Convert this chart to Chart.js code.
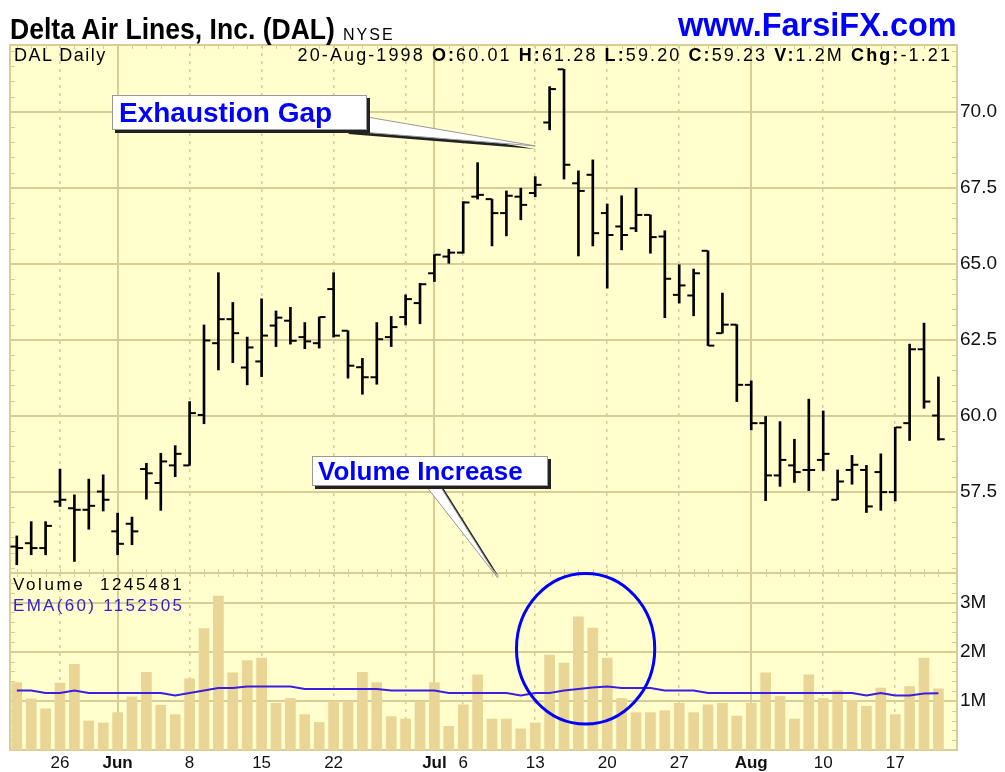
<!DOCTYPE html>
<html>
<head>
<meta charset="utf-8">
<title>DAL Daily</title>
<script src="https://cdn.jsdelivr.net/npm/chart.js@4.4.1/dist/chart.umd.min.js"></script>
<style>
  html, body { margin: 0; padding: 0; background: #fff; }
  #wrap { position: relative; width: 1005px; height: 772px; overflow: hidden; font-family: "Liberation Sans", Arial, sans-serif; }
  #wrap canvas { position: absolute; left: 0; top: 0; width: 1005px; height: 772px; }
  .txt { position: absolute; white-space: nowrap; line-height: 1; color: #000; }
  #title { left: 10px; top: 15px; font-weight: bold; font-size: 29px; transform: scaleX(0.915); transform-origin: 0 0; }
  #exch { left: 343px; top: 27px; font-size: 16px; letter-spacing: 2px; }
  #site { left: 678px; top: 9px; font-weight: bold; font-size: 32.5px; color: #0000ff; }
  #sym { left: 14px; top: 46px; font-size: 18px; letter-spacing: 1.5px; }
  #quote { right: 53px; top: 46px; font-size: 18px; letter-spacing: 2.1px; }
  #vol { left: 13px; top: 576px; font-size: 17px; letter-spacing: 2.6px; }
  #ema { left: 13px; top: 597px; font-size: 17px; letter-spacing: 2.3px; color: #3322cc; }
  .callout { position: absolute; background: #fff; border: 1px solid #999; box-shadow: 3px 3px 0 #222;
             color: #0000ff; font-weight: bold; white-space: nowrap; box-sizing: border-box; }
  #cb1 { left: 112px; top: 95px; width: 255px; height: 35px; font-size: 28px; line-height: 33px; padding-left: 6px; }
  #cb2 { left: 312px; top: 456px; width: 236px; height: 30px; font-size: 26px; line-height: 28px; padding-left: 5px; }
</style>
</head>
<body>
<div id="wrap">
  <canvas id="chart" width="1005" height="772"></canvas>
  <div class="txt" id="title">Delta Air Lines, Inc. (DAL)</div>
  <div class="txt" id="exch">NYSE</div>
  <div class="txt" id="site">www.FarsiFX.com</div>
  <div class="txt" id="sym">DAL Daily</div>
  <div class="txt" id="quote">20-Aug-1998 <b>O:</b>60.01 <b>H:</b>61.28 <b>L:</b>59.20 <b>C:</b>59.23 <b>V:</b>1.2M <b>Chg:</b>-1.21</div>
  <div class="txt" id="vol">Volume&nbsp;&nbsp;1245481</div>
  <div class="txt" id="ema">EMA(60) 1152505</div>
  <div class="callout" id="cb1">Exhaustion Gap</div>
  <div class="callout" id="cb2">Volume Increase</div>
</div>
<script>
// trading days shown, 20-May-1998 .. 20-Aug-1998
const dates = [
    '1998-05-20', '1998-05-21', '1998-05-22', '1998-05-26', '1998-05-27', '1998-05-28', '1998-05-29',
    '1998-06-01', '1998-06-02', '1998-06-03', '1998-06-04', '1998-06-05', '1998-06-08', '1998-06-09',
    '1998-06-10', '1998-06-11', '1998-06-12', '1998-06-15', '1998-06-16', '1998-06-17', '1998-06-18',
    '1998-06-19', '1998-06-22', '1998-06-23', '1998-06-24', '1998-06-25', '1998-06-26', '1998-06-29',
    '1998-06-30', '1998-07-01', '1998-07-02', '1998-07-06', '1998-07-07', '1998-07-08', '1998-07-09',
    '1998-07-10', '1998-07-13', '1998-07-14', '1998-07-15', '1998-07-16', '1998-07-17', '1998-07-20',
    '1998-07-21', '1998-07-22', '1998-07-23', '1998-07-24', '1998-07-27', '1998-07-28', '1998-07-29',
    '1998-07-30', '1998-07-31', '1998-08-03', '1998-08-04', '1998-08-05', '1998-08-06', '1998-08-07',
    '1998-08-10', '1998-08-11', '1998-08-12', '1998-08-13', '1998-08-14', '1998-08-17', '1998-08-18',
    '1998-08-19', '1998-08-20'
];

const openP = [
    55.70, 55.81, 55.65, 57.18, 56.96, 56.91, 57.51, 56.20, 56.45, 58.25, 57.79, 58.37, 58.37, 60.03,
    62.39, 63.18, 61.59, 61.79, 62.97, 63.13, 62.59, 62.39, 64.17, 62.80, 61.60, 61.27, 62.59, 63.25,
    63.71, 64.69, 65.24, 65.37, 67.21, 67.13, 66.67, 67.21, 67.33, 69.65, 71.40, 67.65, 67.93, 66.67,
    66.23, 66.17, 66.61, 65.90, 63.98, 63.96, 65.43, 62.72, 63.00, 61.02, 59.76, 58.04, 58.37, 58.22,
    58.55, 57.24, 58.22, 58.22, 58.15, 57.49, 59.76, 62.19, 60.01
];
const highP = [
    56.05, 56.52, 56.52, 58.25, 57.40, 57.92, 58.06, 56.80, 56.67, 58.44, 58.77, 59.02, 60.47, 62.99,
    64.71, 63.73, 62.59, 63.85, 63.45, 63.57, 63.07, 63.25, 64.71, 62.80, 61.89, 63.07, 63.27, 63.98,
    64.36, 65.30, 65.48, 67.05, 68.33, 67.13, 67.40, 67.49, 67.87, 70.83, 71.40, 68.06, 68.42, 66.97,
    67.24, 67.49, 66.61, 66.09, 64.97, 64.83, 65.43, 64.04, 63.00, 61.15, 59.98, 59.81, 59.23, 60.55,
    60.16, 58.22, 58.70, 58.37, 58.75, 59.62, 62.36, 63.05, 61.28
];
const lowP = [
    55.10, 55.43, 55.43, 57.02, 55.21, 56.27, 56.87, 55.43, 55.76, 57.26, 56.89, 58.00, 58.37, 59.74,
    61.51, 61.75, 61.02, 61.29, 62.28, 62.36, 62.21, 62.23, 62.59, 61.24, 60.71, 61.04, 62.28, 62.99,
    63.03, 64.42, 65.02, 65.35, 67.13, 65.59, 65.92, 66.45, 67.21, 69.41, 67.79, 65.26, 65.59, 64.20,
    65.46, 66.06, 65.35, 63.23, 63.71, 63.29, 62.31, 62.72, 60.47, 59.54, 57.21, 57.68, 57.81, 57.54,
    58.20, 57.24, 57.75, 56.82, 56.89, 57.20, 59.19, 60.25, 59.20
];
const closeP = [
    55.65, 55.65, 56.38, 57.24, 56.91, 57.04, 57.24, 55.79, 56.20, 58.11, 58.50, 58.75, 60.09, 62.48,
    63.18, 62.72, 62.25, 62.64, 63.23, 62.47, 62.45, 63.25, 62.64, 61.65, 61.27, 62.52, 62.92, 63.84,
    64.33, 65.30, 65.37, 67.02, 67.27, 66.67, 67.24, 66.94, 67.60, 70.75, 68.26, 67.40, 66.01, 65.95,
    65.95, 66.61, 65.88, 64.51, 64.29, 64.69, 62.31, 63.00, 61.02, 59.76, 58.04, 58.55, 58.15, 58.22,
    58.75, 57.84, 58.39, 57.02, 57.49, 59.62, 62.19, 60.47, 59.23
];

const volume = [
    1370000, 1040000, 840000, 1360000, 1740000, 590000, 550000, 760000, 1080000, 1580000, 910000,
    720000, 1450000, 2470000, 3130000, 1570000, 1820000, 1870000, 950000, 1050000, 720000, 560000,
    990000, 990000, 1580000, 1370000, 680000, 630000, 980000, 1370000, 480000, 920000, 1530000,
    630000, 630000, 430000, 550000, 1930000, 1770000, 2710000, 2480000, 1870000, 1050000, 760000,
    760000, 800000, 950000, 760000, 920000, 950000, 690000, 950000, 1570000, 1090000, 630000,
    1530000, 1050000, 1210000, 1010000, 890000, 1260000, 720000, 1290000, 1870000, 1245481
];
const ema60 = [
    1210000, 1210000, 1160000, 1160000, 1210000, 1160000, 1160000, 1160000, 1160000, 1160000, 1160000,
    1110000, 1160000, 1210000, 1260000, 1260000, 1290000, 1290000, 1290000, 1290000, 1240000, 1240000,
    1240000, 1240000, 1240000, 1240000, 1210000, 1210000, 1210000, 1210000, 1160000, 1160000, 1160000,
    1160000, 1160000, 1110000, 1160000, 1160000, 1210000, 1240000, 1270000, 1290000, 1260000, 1260000,
    1260000, 1210000, 1210000, 1210000, 1160000, 1160000, 1160000, 1160000, 1160000, 1160000, 1160000,
    1160000, 1160000, 1160000, 1160000, 1110000, 1160000, 1110000, 1110000, 1150000, 1152505
];

// axis ticks
const priceTicks = [57.5, 60, 62.5, 65, 67.5, 70];
const volumeTicks = [1000000, 2000000, 3000000];
const volumeTickLabels = ['1M', '2M', '3M'];
const dateTickIdx = [3, 7, 12, 17, 22, 27, 29, 31, 36, 41, 46, 51, 56, 61];
const dateTickLabels = ['26', 'Jun', '8', '15', '22', '', 'Jul', '6', '13', '20', '27', 'Aug', '10', '17'];
const monthTickIdx = [7, 29, 51];

const PLOT_BG = 'rgb(255,254,204)';
const GRID = 'rgb(214,206,150)';
const VOL_COLOR = 'rgb(233,214,150)';
const EMA_COLOR = 'rgb(60,30,225)';

// ── Annotations (anchored on data values) ─────────────────────────────────────
function drawWedge(ctx, pts, dx, dy) {
    ctx.beginPath();
    pts.forEach((p, k) => k ? ctx.lineTo(p[0] + dx, p[1] + dy) : ctx.moveTo(p[0] + dx, p[1] + dy));
    ctx.closePath();
}

const decor = {
    id: 'decor',
    beforeDraw(chart) {
        const { ctx, chartArea: a } = chart;
        ctx.save();
        ctx.fillStyle = PLOT_BG;
        ctx.fillRect(a.left, a.top, a.right - a.left, a.bottom - a.top);
        ctx.restore();
    },
    beforeDatasetsDraw(chart) {
        const { ctx, chartArea: a, scales: { x, yp, yv } } = chart;
        ctx.save();
        ctx.strokeStyle = GRID;
        ctx.lineWidth = 1;
        ctx.beginPath();
        // small day ticks on top edge, panel separator and bottom edge
        dates.forEach((d, i) => {
            const px = Math.round(x.getPixelForValue(i)) + 0.5;
            ctx.moveTo(px, a.top); ctx.lineTo(px, a.top + 4);
            ctx.moveTo(px, yv.top - 4); ctx.lineTo(px, yv.top + 4);
            ctx.moveTo(px, a.bottom - 5); ctx.lineTo(px, a.bottom);
        });
        for (let v = 55; v <= 72; v += 0.5) {
            const py = Math.round(yp.getPixelForValue(v)) + 0.5;
            ctx.moveTo(a.left, py); ctx.lineTo(a.left + 5, py);
            ctx.moveTo(a.right - 5, py); ctx.lineTo(a.right, py);
        }
        for (let v = 200000; v < 3600000; v += 200000) {
            const py = Math.round(yv.getPixelForValue(v)) + 0.5;
            ctx.moveTo(a.left, py); ctx.lineTo(a.left + 5, py);
            ctx.moveTo(a.right - 5, py); ctx.lineTo(a.right, py);
        }
        ctx.stroke();

        // frame and separator between price and volume panes
        ctx.lineWidth = 2;
        ctx.strokeRect(a.left, a.top, a.right - a.left, a.bottom - a.top);
        ctx.beginPath();
        ctx.moveTo(a.left, Math.round(yv.top));
        ctx.lineTo(a.right, Math.round(yv.top));
        ctx.stroke();
        ctx.restore();
    },
    afterDatasetsDraw(chart) {
        const { ctx, scales: { x, yp, yv } } = chart;
        ctx.save();

        // "Exhaustion Gap" pointer
        const t1 = [x.getPixelForValue(36.0), yp.getPixelForValue(68.88)];
        const w1 = [[367, 117], t1, [348, 131]];
        ctx.fillStyle = '#222';
        drawWedge(ctx, w1, 0, 3); ctx.fill();
        ctx.fillStyle = '#fff'; ctx.strokeStyle = '#999'; ctx.lineWidth = 1;
        drawWedge(ctx, w1, 0, 0); ctx.fill(); ctx.stroke();

        // "Volume Increase" pointer
        const t2 = [x.getPixelForValue(33.4), yv.getPixelForValue(3500000)];
        const w2 = [[426, 486], [440, 486], t2];
        ctx.fillStyle = '#222';
        drawWedge(ctx, w2, 2, 0); ctx.fill();
        ctx.fillStyle = '#fff'; ctx.strokeStyle = '#999';
        drawWedge(ctx, w2, 0, 0); ctx.fill(); ctx.stroke();

        // circle round the volume spike
        const cx = x.getPixelForValue(39.5), cy = yv.getPixelForValue(2060000);
        const rx = x.getPixelForValue(39.5 + 4.8) - cx;
        const ry = cy - yv.getPixelForValue(2060000 + 1530000);
        ctx.strokeStyle = '#0000ff';
        ctx.lineWidth = 3;
        ctx.beginPath();
        ctx.ellipse(cx, cy, rx, ry, 0, 0, Math.PI * 2);
        ctx.stroke();
        ctx.restore();
    }
};

// ── Chart ─────────────────────────────────────────────────────────────────────
const idx = dates.map((d, i) => i);

new Chart(document.getElementById('chart'), {
    type: 'scatter',
    data: {
        datasets: [
            {   // open tick, left of the bar
                type: 'scatter', yAxisID: 'yp', order: 1,
                data: idx.map(i => ({ x: i - 0.23, y: openP[i] })),
                pointStyle: 'line', pointRadius: 3, pointBorderWidth: 2, borderColor: '#000'
            },
            {   // close tick, right of the bar
                type: 'scatter', yAxisID: 'yp', order: 1,
                data: idx.map(i => ({ x: i + 0.23, y: closeP[i] })),
                pointStyle: 'line', pointRadius: 3, pointBorderWidth: 2, borderColor: '#000'
            },
            {   // high-low range
                type: 'bar', yAxisID: 'yp', order: 2, grouped: false,
                data: idx.map(i => ({ x: i, y: [lowP[i], highP[i]] })),
                backgroundColor: '#000', barThickness: 2, borderWidth: 0
            },
            {
                type: 'line', yAxisID: 'yv', order: 3,
                data: idx.map(i => ({ x: i, y: ema60[i] })),
                borderColor: EMA_COLOR, borderWidth: 2, pointRadius: 0, tension: 0
            },
            {
                type: 'bar', yAxisID: 'yv', order: 4, grouped: false,
                data: idx.map(i => ({ x: i, y: volume[i] })),
                backgroundColor: VOL_COLOR, barThickness: 10, borderWidth: 0
            }
        ]
    },
    options: {
        responsive: false,
        animation: false,
        events: [],
        layout: { padding: { top: 45, left: 10, right: 0, bottom: 0 } },
        plugins: { legend: { display: false }, tooltip: { enabled: false } },
        scales: {
            yp: {
                type: 'linear', position: 'right', stack: 'panes', stackWeight: 528,
                min: 54.83, max: 72.2,
                afterBuildTicks: s => { s.ticks = priceTicks.map(v => ({ value: v })); },
                afterFit: s => { s.width = 48; },
                grid: { color: GRID, lineWidth: 2, drawTicks: false },
                border: { display: false },
                ticks: { padding: 3, color: '#111', font: { size: 19 }, callback: v => v.toFixed(1) }
            },
            yv: {
                type: 'linear', position: 'right', stack: 'panes', stackWeight: 177,
                min: 0, max: 3600000,
                afterBuildTicks: s => { s.ticks = volumeTicks.map(v => ({ value: v })); },
                afterFit: s => { s.width = 48; },
                grid: { color: GRID, lineWidth: 2, drawTicks: false },
                border: { display: false },
                ticks: { padding: 3, color: '#111', font: { size: 19 }, callback: (v, i) => volumeTickLabels[i] }
            },
            x: {
                type: 'linear', min: -0.472, max: 65.29, offset: false,
                afterBuildTicks: s => { s.ticks = dateTickIdx.map(v => ({ value: v })); },
                afterFit: s => { s.height = 22; },
                grid: {
                    offset: false, drawTicks: false, color: GRID,
                    lineWidth: ctx => (ctx.tick && monthTickIdx.includes(ctx.tick.value)) ? 2 : 1.5
                },
                border: {
                    display: false,
                    dash: ctx => (ctx.tick && monthTickIdx.includes(ctx.tick.value)) ? [] : [3, 5]
                },
                ticks: {
                    padding: 3, color: '#111', autoSkip: false, maxRotation: 0,
                    callback: (v, i) => dateTickLabels[i],
                    font: ctx => ({
                        size: 17,
                        weight: (ctx.tick && monthTickIdx.includes(ctx.tick.value)) ? 'bold' : 'normal'
                    })
                }
            }
        }
    },
    plugins: [decor]
});
</script>
</body>
</html>
